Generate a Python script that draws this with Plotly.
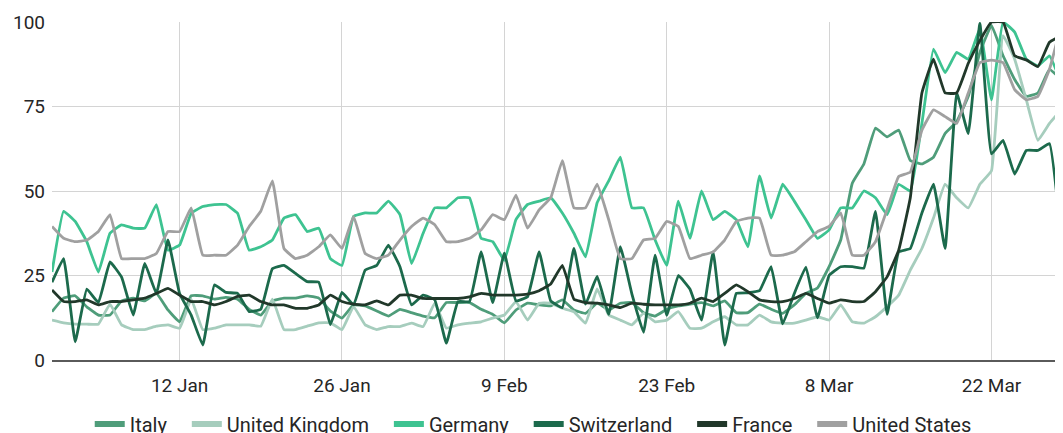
import pandas as pd
import plotly.graph_objects as go

start_date = "2020-01-01"
n_days = 88
tick_dates = ["2020-01-12", "2020-01-26", "2020-02-09", "2020-02-23", "2020-03-08", "2020-03-22"]
y_ticks = [0, 25, 50, 75, 100]

italy = [14.3, 18.3, 19, 15.7, 13.3, 13.3, 17.5, 18.3, 17.5, 19.7, 14.8, 11.3, 19, 19, 18, 18.5, 18, 15, 13.3, 17.5,
         18.3, 18.3, 19, 18.3, 14.5, 12.4, 16.3, 16, 14.5, 13, 15, 14, 13, 12.5, 17, 17, 17, 15, 13.5, 11,
         14.8, 16.8, 16.3, 16, 17.8, 14.8, 13.8, 16.8, 14.8, 16.8, 17, 14, 13, 15, 16, 16.5, 17, 16, 17.5, 14,
         14, 16.5, 15, 13.8, 16.3, 19.7, 21.3, 27.6, 35.5, 52.3, 58, 68.6, 66, 68, 59, 58, 60, 67, 70.5, 78,
         91, 99, 90, 83, 78, 79, 86, 83]
united_kingdom = [11.8, 11, 10.6, 10.6, 10.6, 16.5, 10.4, 9, 9, 10, 10.4, 9.4, 18, 9, 9.4, 10.4, 10.4, 10.4, 10, 18,
                  9, 9, 10, 11, 11, 9, 15.8, 10.4, 9, 9.9, 9.9, 10.9, 9.9, 16.8, 9.4, 10.4, 10.9, 11.3, 12.4, 13.3,
                  17.3, 11.8, 16.8, 16.8, 15.3, 14.3, 10.9, 21, 13.3, 11.8, 10.4, 13.8, 11.3, 11.8, 14.3, 9.4, 9.4, 11.3, 12.8, 10.4,
                  10.4, 13.3, 11.3, 10.9, 10.9, 11.8, 12.8, 11.8, 16.3, 11.3, 10.9, 12.8, 15.8, 19.2, 26.6, 33, 42, 52, 48, 45,
                  52, 56, 96, 89, 77, 65, 70, 74]
germany = [26, 44, 41, 35, 26, 37.5, 40, 39, 39, 46, 32.5, 34, 43.4, 45.4, 46, 46, 43.4, 32.5, 33.5, 35.5,
           42, 43, 38, 39, 30, 28, 42.5, 43.5, 43.5, 47, 43, 28.5, 37.5, 45, 45, 48, 48, 36, 35, 29.5,
           41.5, 46, 47, 48, 43.5, 37.5, 30.5, 46.5, 53, 60, 45, 45, 35.5, 28, 47, 36, 50, 41.5, 44, 41.5,
           33.5, 54.5, 42, 52, 47, 41.5, 36, 38.5, 45, 45, 50, 48, 43, 52, 50, 70, 92, 85, 91, 89,
           98, 77, 100, 97, 89, 87, 90, 82]
switzerland = [23, 30, 5.4, 21, 17, 29, 24.5, 13.3, 28.6, 19.7, 35.5, 19.7, 13.3, 4.4, 22.2, 20, 19.7, 14.3, 15, 27,
               28, 25.6, 23.2, 23, 10.5, 20, 16.3, 26.6, 28, 34, 27.6, 16.3, 19.2, 17.8, 5, 17.3, 17.3, 32, 17, 31.6,
               17.5, 18.7, 32, 17.5, 15.5, 33, 16.5, 24.7, 13.5, 33.5, 19.5, 8.2, 31, 13.2, 25, 21, 11.8, 32, 4.4, 19.7,
               19.9, 20.5, 27.6, 10.7, 19.7, 27.5, 12.5, 25, 27.6, 27.6, 27.2, 44, 13.5, 32, 33, 43.5, 52, 33, 79, 67,
               99.6, 61, 65, 55, 62, 62, 64, 36]
france = [20.7, 17.3, 17.3, 17.8, 16.3, 17.3, 17.3, 17.8, 18.3, 19.7, 21.2, 19.2, 17.3, 17.3, 16.3, 17.3, 18.8, 19.2, 17.3, 16.3,
          16.3, 15.3, 15.3, 16.3, 19.2, 17.3, 16.5, 16.3, 17.5, 16.3, 19.2, 19.2, 18.2, 18.2, 18.2, 18.2, 18.7, 19.7, 19.2, 19.2,
          19.2, 19.5, 20.5, 22.5, 28, 18, 17, 16.8, 16.3, 15.5, 16.8, 16.5, 16.3, 16.3, 16.3, 16.8, 18.3, 17.3, 19.7, 22.2,
          20.2, 17.8, 17.3, 17.3, 18.2, 19.7, 18.2, 16.8, 17.8, 17.3, 17.3, 20.2, 24.6, 32.5, 48, 79, 89, 79, 79, 87.8,
          94.5, 100, 100, 90, 88.8, 86.8, 94, 96]
united_states = [39.5, 36, 35, 35.5, 38, 43, 30, 30, 30, 31.5, 38, 38, 45, 31, 31, 31, 34, 39.5, 44, 53,
                 33, 30, 31, 33.5, 37, 33, 42.5, 31.5, 30, 31, 35.5, 39.5, 42, 40, 35, 35, 36, 38.5, 43, 41.5,
                 48.8, 39, 44.4, 48, 59, 45, 45, 52, 41.5, 30, 30, 35.5, 36, 41, 39.5, 30, 31, 32, 35.5, 41,
                 42, 42, 31, 31, 32, 35, 38, 39.5, 43.5, 31, 31, 35, 44.5, 54.3, 55.6, 68, 74, 72, 70, 79,
                 88, 88.7, 88, 80, 77, 78, 86, 99]

series_names = ["Italy", "United Kingdom", "Germany", "Switzerland", "France", "United States"]
series_values = [italy, united_kingdom, germany, switzerland, france, united_states]
series_colors = ["#4f9d7a", "#a6cdbd", "#3ec391", "#1c6a4c", "#21382a", "#a0a0a0"]

dates = pd.date_range(start_date, periods=n_days, freq="D")
x_end = dates[0] + pd.Timedelta(hours=int(87.2 * 24))

fig = go.Figure()
for name, vals, col in zip(series_names, series_values, series_colors):
    fig.add_trace(go.Scatter(
        x=dates, y=vals, mode="lines", name=name, showlegend=False,
        line=dict(color=col, width=2.8, shape="spline", smoothing=0.3),
        hoverinfo="skip",
    ))
NBSP = "\u00a0"
for i, (name, col) in enumerate(zip(series_names, series_colors)):
    pad = "" if i == len(series_names) - 1 else NBSP * 3
    fig.add_trace(go.Scatter(
        x=[None], y=[None], mode="lines", name=name + pad,
        line=dict(color=col, width=6), showlegend=True,
    ))

# page body has an 8px margin: size the figure so that it fits the window without scrollbars
fig.update_layout(
    template="none",
    width=1055, height=425,
    margin=dict(l=44, r=0, t=14, b=73, autoexpand=False),
    plot_bgcolor="white", paper_bgcolor="white",
    font=dict(family="Roboto", size=19, color="#262626"),
    showlegend=True,
    legend=dict(orientation="h", xanchor="center", x=0.476, yanchor="top", y=-0.132,
                font=dict(size=20, color="#262626"), itemwidth=30, bgcolor="rgba(0,0,0,0)"),
    xaxis=dict(type="date", range=[dates[0], x_end], tickvals=tick_dates, tickformat="%-d %b",
               showgrid=True, gridcolor="#d4d4d4", gridwidth=1, zeroline=False,
               showline=True, linecolor="#5a5a5a", linewidth=1.5, ticks="", automargin=False,
               ticklabelstandoff=7),
    yaxis=dict(range=[0, 100], tickvals=y_ticks, showgrid=True, gridcolor="#d4d4d4", gridwidth=1,
               zeroline=False, showline=False, ticks="", automargin=False, ticklabelstandoff=6),
)

fig.write_html("out.html")
